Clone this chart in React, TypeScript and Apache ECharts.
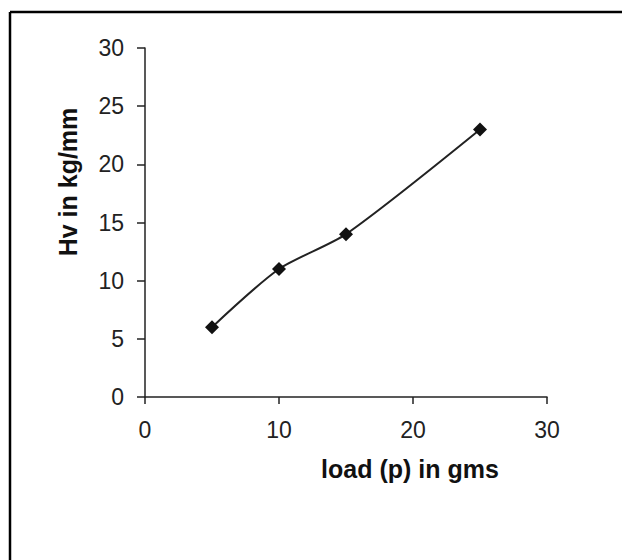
import React, { useEffect, useRef } from "react";
import * as echarts from "echarts";

const loads = [5, 10, 15, 25];
const hardness = [6, 11, 14, 23];
const xTicks = [0, 10, 20, 30];
const yTicks = [0, 5, 10, 15, 20, 25, 30];

export default function App() {
  const ref = useRef<HTMLDivElement>(null);
  useEffect(() => {
    if (!ref.current) return;
    const chart = echarts.init(ref.current, undefined, { renderer: "svg" });
    const font = "Liberation Sans, Arial, sans-serif";
    chart.setOption({
      animation: false,
      backgroundColor: "#fff",
      grid: { left: 145, right: 75, top: 48, bottom: 163, containLabel: false },
      xAxis: {
        type: "value",
        min: xTicks[0],
        max: xTicks[xTicks.length - 1],
        interval: 10,
        axisLine: { show: true, onZero: false, lineStyle: { color: "#222", width: 1.5 } },
        axisTick: { show: true, length: 7, lineStyle: { color: "#222", width: 1.5 } },
        axisLabel: { color: "#222", fontSize: 23, fontFamily: font, margin: 21 },
        splitLine: { show: false },
      },
      yAxis: {
        type: "value",
        min: yTicks[0],
        max: yTicks[yTicks.length - 1],
        interval: 5,
        axisLine: { show: true, onZero: false, lineStyle: { color: "#222", width: 1.5 } },
        axisTick: { show: true, length: 8, lineStyle: { color: "#222", width: 1.5 } },
        axisLabel: { color: "#222", fontSize: 23, fontFamily: font, margin: 21 },
        splitLine: { show: false },
      },
      graphic: [
        { type: "line", shape: { x1: 10, y1: 12, x2: 622, y2: 12 }, style: { stroke: "#000", lineWidth: 2.5 } },
        { type: "line", shape: { x1: 10, y1: 12, x2: 10, y2: 560 }, style: { stroke: "#000", lineWidth: 2.5 } },
        {
          type: "text",
          x: 410,
          y: 469,
          style: { text: "load (p) in gms", font: `bold 25px ${font}`, fill: "#111", align: "center", verticalAlign: "middle" },
        },
        {
          type: "text",
          x: 68,
          y: 182,
          rotation: Math.PI / 2,
          style: { text: "Hv in kg/mm", font: `bold 25px ${font}`, fill: "#111", align: "center", verticalAlign: "middle" },
        },
      ],
      series: [
        {
          type: "line",
          data: loads.map((x, i) => [x, hardness[i]]),
          smooth: 0.25,
          symbol: "diamond",
          symbolSize: 14,
          lineStyle: { color: "#222", width: 2 },
          itemStyle: { color: "#111" },
        },
      ],
    });
    return () => chart.dispose();
  }, []);
  return <div ref={ref} style={{ width: 622, height: 560, position: "absolute", left: 0, top: 0 }} />;
}
